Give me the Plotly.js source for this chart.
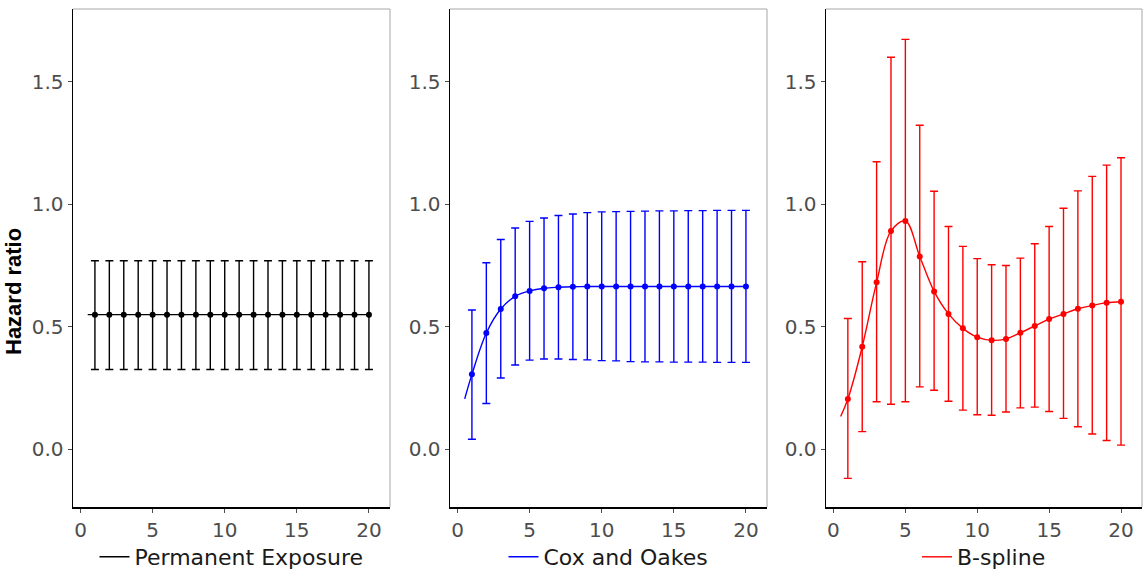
<!DOCTYPE html>
<html>
<head>
<meta charset="utf-8">
<script src="https://cdn.plot.ly/plotly-3.0.1.min.js"></script>
<style>html,body{margin:0;padding:0;background:#fff;}#chart{width:1144px;height:571px;}</style>
</head>
<body>
<div id="chart"></div>
<script>
// ---- data ----
const xPoints = [1,2,3,4,5,6,7,8,9,10,11,12,13,14,15,16,17,18,19,20];
const xCurve  = [0.5,1,2,3,4,5,6,7,8,9,10,11,12,13,14,15,16,17,18,19,20];
const xTicks  = [0,5,10,15,20];
const yTicks  = [0,0.5,1,1.5];
const seriesNames = ["Permanent Exposure","Cox and Oakes","B-spline"];

// Permanent Exposure
const peHR    = [0.549,0.549,0.549,0.549,0.549,0.549,0.549,0.549,0.549,0.549,0.549,0.549,0.549,0.549,0.549,0.549,0.549,0.549,0.549,0.549];
const peLow   = [0.325,0.325,0.325,0.325,0.325,0.325,0.325,0.325,0.325,0.325,0.325,0.325,0.325,0.325,0.325,0.325,0.325,0.325,0.325,0.325];
const peUp    = [0.769,0.769,0.769,0.769,0.769,0.769,0.769,0.769,0.769,0.769,0.769,0.769,0.769,0.769,0.769,0.769,0.769,0.769,0.769,0.769];
const peCurve = [0.549,0.549,0.549,0.549,0.549,0.549,0.549,0.549,0.549,0.549,0.549,0.549,0.549,0.549,0.549,0.549,0.549,0.549,0.549,0.549,0.549];

// Cox and Oakes
const coxHR    = [0.305,0.474,0.572,0.624,0.646,0.657,0.661,0.663,0.664,0.664,0.664,0.664,0.664,0.664,0.664,0.664,0.664,0.664,0.664,0.664];
const coxLow   = [0.040,0.186,0.290,0.343,0.363,0.368,0.368,0.366,0.364,0.361,0.360,0.357,0.356,0.356,0.355,0.355,0.355,0.354,0.354,0.354];
const coxUp    = [0.568,0.761,0.856,0.903,0.930,0.944,0.954,0.960,0.966,0.969,0.970,0.971,0.972,0.973,0.973,0.974,0.974,0.975,0.975,0.975];
const coxCurve = [0.205,0.305,0.474,0.572,0.624,0.646,0.657,0.661,0.663,0.664,0.664,0.664,0.664,0.664,0.664,0.664,0.664,0.664,0.664,0.664,0.664];

// B-spline
const bsHR    = [0.204,0.418,0.681,0.891,0.932,0.787,0.644,0.552,0.493,0.457,0.444,0.450,0.475,0.503,0.531,0.552,0.573,0.586,0.598,0.602];
const bsLow   = [-0.120,0.071,0.193,0.183,0.193,0.254,0.240,0.195,0.159,0.140,0.138,0.151,0.168,0.171,0.153,0.125,0.091,0.061,0.035,0.016];
const bsUp    = [0.533,0.765,1.174,1.601,1.674,1.323,1.053,0.909,0.828,0.778,0.753,0.750,0.780,0.839,0.909,0.984,1.055,1.114,1.160,1.190];
const bsCurve = [0.133,0.204,0.418,0.681,0.891,0.932,0.787,0.644,0.552,0.493,0.457,0.444,0.450,0.475,0.503,0.531,0.552,0.573,0.586,0.598,0.602];

const colors = ["#000000","#0000ff","#ff0000"];

// ---- build traces ----
const panels = [
  {hr: peHR,  low: peLow,  up: peUp,  curve: peCurve,  shape: "linear"},
  {hr: coxHR, low: coxLow, up: coxUp, curve: coxCurve, shape: "spline"},
  {hr: bsHR,  low: bsLow,  up: bsUp,  curve: bsCurve,  shape: "spline"}
];
const traces = [];
panels.forEach((p, i) => {
  const xa = i === 0 ? "x" : "x" + (i + 1);
  const ya = i === 0 ? "y" : "y" + (i + 1);
  const lg = i === 0 ? "legend" : "legend" + (i + 1);
  traces.push({
    type: "scatter", mode: "lines", x: xCurve, y: p.curve, xaxis: xa, yaxis: ya,
    name: seriesNames[i], legend: lg, showlegend: true,
    line: {color: colors[i], width: 1.4, shape: p.shape, smoothing: 1},
    hoverinfo: "skip"
  });
  traces.push({
    type: "scatter", mode: "markers", x: xPoints, y: p.hr, xaxis: xa, yaxis: ya,
    name: seriesNames[i], showlegend: false,
    marker: {color: colors[i], size: 6},
    error_y: {
      type: "data", symmetric: false,
      array: p.up.map((u, k) => u - p.hr[k]),
      arrayminus: p.low.map((l, k) => p.hr[k] - l),
      color: colors[i], thickness: 1.4, width: 4
    }
  });
});

// ---- layout ----
const W = 1144, H = 571;
const panelPx = [[73, 390], [450, 767], [826, 1142]];
const yDom = [1 - 507 / H, 1 - 9 / H];
const tickFont = {family: "DejaVu Sans, sans-serif", size: 20, color: "#4d4d4d"};
const layout = {
  width: W, height: H,
  margin: {l: 0, r: 0, t: 0, b: 0, autoexpand: false},
  paper_bgcolor: "#ffffff", plot_bgcolor: "#ffffff",
  shapes: [], annotations: []
};
panelPx.forEach((px, i) => {
  const sfx = i === 0 ? "" : String(i + 1);
  layout["xaxis" + sfx] = {
    domain: [px[0] / W, px[1] / W], anchor: "y" + sfx,
    range: [-0.52, 21.46], tickvals: xTicks, ticks: "outside", ticklen: 4,
    tickcolor: "#4d4d4d", tickwidth: 1, tickfont: tickFont, automargin: false,
    showgrid: false, zeroline: false, showline: true, linecolor: "#000000", linewidth: 1.5
  };
  layout["yaxis" + sfx] = {
    domain: yDom, anchor: "x" + sfx,
    range: [-0.237, 1.798], tickvals: yTicks, tickformat: ".1f", ticks: "outside", ticklen: 4,
    tickcolor: "#4d4d4d", tickwidth: 1, tickfont: tickFont, automargin: false,
    showgrid: false, zeroline: false, showline: true, linecolor: "#000000", linewidth: 1.5
  };
  const lgKey = i === 0 ? "legend" : "legend" + (i + 1);
  layout[lgKey] = {
    x: (px[0] + px[1]) / 2 / W, xanchor: "center",
    y: (H - 557) / H, yanchor: "middle",
    orientation: "h", bgcolor: "rgba(0,0,0,0)",
    font: {family: "DejaVu Sans, sans-serif", size: 22, color: "#1a1a1a"}
  };
  // grey top and right border of the panel
  layout.shapes.push({type: "line", xref: "x" + sfx + " domain", yref: "y" + sfx + " domain",
    x0: 0, x1: 1, y0: 1, y1: 1, line: {color: "#a6a6a6", width: 1}});
  layout.shapes.push({type: "line", xref: "x" + sfx + " domain", yref: "y" + sfx + " domain",
    x0: 1, x1: 1, y0: 0, y1: 1, line: {color: "#a6a6a6", width: 1}});
});
layout.annotations.push({
  text: "Hazard ratio", xref: "paper", yref: "paper",
  x: 13 / W, y: 1 - 292 / H, xanchor: "center", yanchor: "middle",
  textangle: -90, showarrow: false,
  font: {family: "Liberation Sans Narrow, Liberation Sans, Arial, sans-serif", size: 22, color: "#000000", weight: "bold"}
});

Plotly.newPlot("chart", traces, layout, {displayModeBar: false, staticPlot: true});
</script>
</body>
</html>
